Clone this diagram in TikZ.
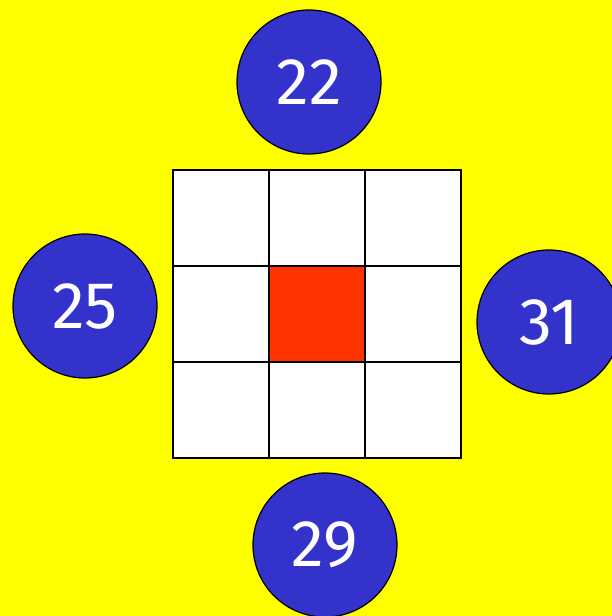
\documentclass[tikz,border=0pt]{standalone}
\usepackage{fontspec}
\setmainfont{Fira Sans}
\definecolor{bgyellow}{RGB}{255,255,0}
\definecolor{ballblue}{RGB}{51,51,204}
\definecolor{cellred}{RGB}{255,51,0}
\tikzset{
  ball/.style={circle, draw=black, line width=1.2pt, fill=ballblue, minimum size=144pt, inner sep=0pt,
    text=white, font=\fontsize{66}{66}\selectfont},
  cell/.style={draw=black, line width=1.2pt, fill=white}
}
\begin{document}
\begin{tikzpicture}[x=1pt, y=-1pt]
    \fill[bgyellow] (0,0) rectangle (612,616);
    \useasboundingbox (0,0) rectangle (612,616);

    % grid
    \foreach \i in {0,1,2} {
        \foreach \j in {0,1,2} {
            \draw[cell] (173+96*\i,170+96*\j) rectangle ++(96,96);
        }
    }
    \draw[cell, fill=cellred] (269,266) rectangle ++(96,96);

    % numbers round the grid
    \node[ball] (top) at (309,82) {22};
    \node[ball] (left) at (85,306) {25};
    \node[ball] (right) at (549,322) {31};
    \node[ball] (bottom) at (325,545) {29};
\end{tikzpicture}
\end{document}
